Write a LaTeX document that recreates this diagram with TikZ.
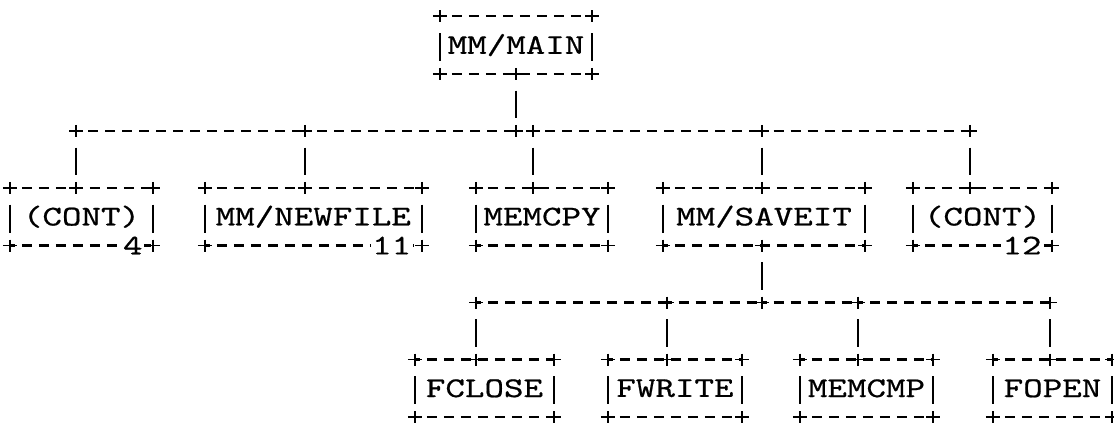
\documentclass[tikz,border=0pt]{standalone}
\usepackage{fontspec}
\usepackage{tikz}
\newfontfamily\typewriter[FakeStretch=1.3,FakeBold=0.6]{lmmono10-regular.otf}

\newcommand{\crossat}[1]{\draw[asciirule] (#1) ++(-7,0) -- ++(14,0) (#1) ++(0,-6) -- ++(0,12);}
\newcommand{\pipeat}[1]{\draw[asciirule] (#1) ++(0,-12) -- ++(0,28);}
\newcommand{\asciibox}[1]{%
  \draw[dashrule] (#1.north west) -- (#1.north east);
  \draw[dashrule] (#1.south west) -- (#1.south east);
  \pipeat{#1.west} \pipeat{#1.east}
  \crossat{#1.north west} \crossat{#1.north east}
  \crossat{#1.south west} \crossat{#1.south east}}

\begin{document}
\begin{tikzpicture}[x=1pt,y=-1pt,
  asciirule/.style={line width=1.9pt},
  dashrule/.style={line width=2.1pt,dash pattern=on 10pt off 7pt,dash phase=5pt},
  drop/.style={asciirule,shorten <=16.6pt,shorten >=12.6pt},
  txt/.style={font=\typewriter\fontsize{28.6}{30}\selectfont,inner sep=0pt},
  box/.style={txt,minimum height=57.2},
  count/.style={txt,fill=white,inner xsep=1.5,anchor=east}]
\useasboundingbox (0,0) rectangle (1114,426);

\node[box,minimum width=152] (main) at (516,45.1) {MM/MAIN};
\node[box,minimum width=143] (cont4) at (81.5,216.7) {(CONT)};
\node[box,minimum width=216.7] (newfile) at (313.3,216.7) {MM/NEWFILE};
\node[box,minimum width=132] (memcpy) at (542,216.7) {MEMCPY};
\node[box,minimum width=202] (saveit) at (764,216.7) {MM/SAVEIT};
\node[box,minimum width=139] (cont12) at (982.5,216.7) {(CONT)};
\node[box,minimum width=139] (fclose) at (484.5,388.3) {FCLOSE};
\node[box,minimum width=134] (fwrite) at (675,388.3) {FWRITE};
\node[box,minimum width=133] (memcmp) at (866.5,388.3) {MEMCMP};
\node[box,minimum width=119] (fopen) at (1052.5,388.3) {FOPEN};

\foreach \b in {main,cont4,newfile,memcpy,saveit,cont12,fclose,fwrite,memcmp,fopen}
  {\asciibox{\b}}

\node[count] (cont4-no) at ([xshift=-9]cont4.south east) {4};
\node[count] (newfile-no) at ([xshift=-9]newfile.south east) {11};
\node[count] (cont12-no) at ([xshift=-9]cont12.south east) {12};

\coordinate (b-cont4) at (76,130.9);
\coordinate (b-newfile) at (305,130.9);
\coordinate (b-main) at (main.south |- 0,130.9);
\coordinate (b-memcpy) at (533,130.9);
\coordinate (b-saveit) at (761.7,130.9);
\coordinate (b-cont12) at (970,130.9);

\coordinate (c-fclose) at (476,302.5);
\coordinate (c-fwrite) at (666.7,302.5);
\coordinate (c-saveit) at (761.7,302.5);
\coordinate (c-memcmp) at (858,302.5);
\coordinate (c-fopen) at (1050,302.5);

\foreach \u/\v in {b-cont4/b-newfile,b-newfile/b-main,b-main/b-memcpy,b-memcpy/b-saveit,b-saveit/b-cont12,
                   c-fclose/c-fwrite,c-fwrite/c-saveit,c-saveit/c-memcmp,c-memcmp/c-fopen}
  {\draw[dashrule] (\u) -- (\v);}

\draw[drop] (main.south) -- (b-main);
\crossat{main.south}
\draw[drop] (c-saveit |- saveit.south) -- (c-saveit);
\crossat{c-saveit |- saveit.south}

\foreach \j/\b in {cont4/cont4,newfile/newfile,memcpy/memcpy,saveit/saveit,cont12/cont12}
  {\draw[drop] (b-\j) -- (b-\j |- \b.north);
   \crossat{b-\j |- \b.north}}
\foreach \j in {fclose,fwrite,memcmp,fopen}
  {\draw[drop] (c-\j) -- (c-\j |- \j.north);
   \crossat{c-\j |- \j.north}}

\foreach \j in {b-cont4,b-newfile,b-main,b-memcpy,b-saveit,b-cont12,c-fclose,c-fwrite,c-saveit,c-memcmp,c-fopen}
  {\crossat{\j}}
\end{tikzpicture}
\end{document}
